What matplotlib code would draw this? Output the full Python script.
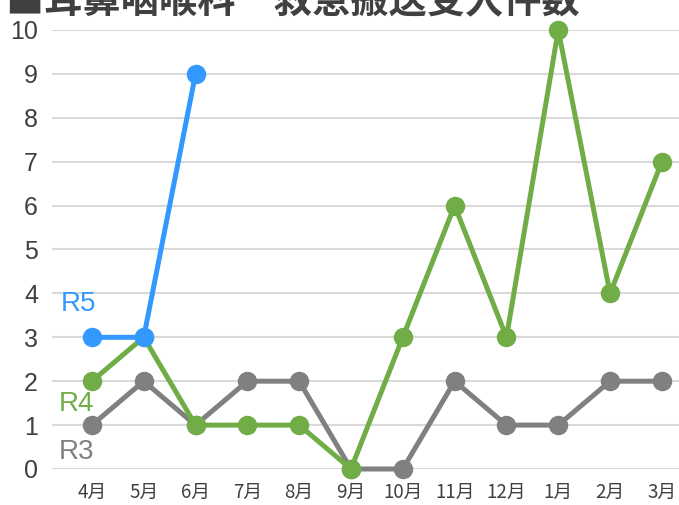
import matplotlib
matplotlib.use("Agg")
import matplotlib.pyplot as plt

months = ["4月", "5月", "6月", "7月", "8月", "9月", "10月", "11月", "12月", "1月", "2月", "3月"]
r3 = [1, 2, 1, 2, 2, 0, 0, 2, 1, 1, 2, 2]
r4 = [2, 3, 1, 1, 1, 0, 3, 6, 3, 10, 4, 7]
r5 = [3, 3, 9]
title = "■耳鼻咽喉科　救急搬送受入件数"

c3 = "#808080"
c4 = "#70AD47"
c5 = "#3399FF"

plt.rcParams['font.family'] = ['Liberation Sans', 'Noto Sans CJK JP', 'DejaVu Sans']

fig = plt.figure(figsize=(6.79, 5.05), dpi=100)
ax = fig.add_axes([52/679, 36/505, 1 - 52/679, 439/505])

x_all = list(range(len(months)))
for vals, col, z in [(r3, c3, 3), (r4, c4, 4), (r5, c5, 5)]:
    ax.plot(x_all[:len(vals)], vals, color=col, lw=3.6, marker='o', markersize=13,
            solid_joinstyle='round', clip_on=False, zorder=z)

ax.set_xlim(-0.77, 11.33)
ax.set_ylim(0, 10)
ax.set_yticks(range(0, 11))
ax.set_xticks(x_all)
ax.set_xticklabels(months, fontsize=13.5, color="#404040",
                   family=['Noto Sans CJK JP', 'DejaVu Sans'])
ax.tick_params(axis='y', labelsize=18, labelcolor="#404040", length=0, pad=10)
ax.tick_params(axis='x', length=0, pad=9)
ax.grid(axis='y', color="#D9D9D9", lw=1.5)
ax.set_axisbelow(True)
for s in ax.spines.values():
    s.set_visible(False)

ax.text(-0.26, 3.75, "R5", color=c5, fontsize=20, ha='center', va='center')
ax.text(-0.29, 1.47, "R4", color=c4, fontsize=20, ha='center', va='center')
ax.text(-0.29, 0.38, "R3", color=c3, fontsize=20, ha='center', va='center')

fig.text(6/679, 1 - 13/505, title, fontsize=27.5, fontweight='bold', color="#404040",
         family=['Noto Sans CJK JP', 'DejaVu Sans'], ha='left', va='baseline')

fig.savefig("out.png", dpi=100)
